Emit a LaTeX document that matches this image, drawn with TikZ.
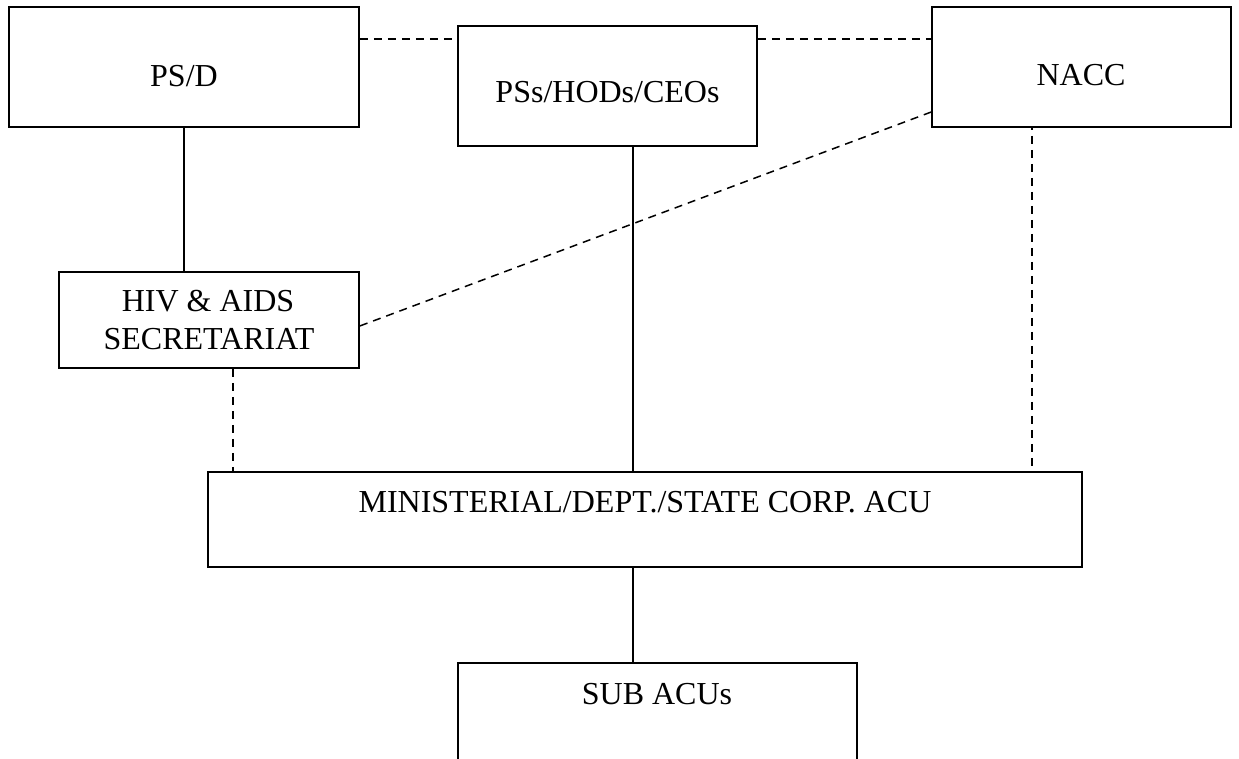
\documentclass[tikz,border=0pt]{standalone}
\usepackage{fontspec}
\setmainfont{Liberation Serif}
\begin{document}
\begin{tikzpicture}[x=1pt,y=-1pt,
  box/.style={draw, line width=1.5pt, rectangle, inner sep=0pt},
  lbl/.style={font=\fontsize{32}{38}\selectfont, inner sep=0pt, anchor=base},
  sol/.style={line width=1.5pt},
  dsh/.style={line width=1.5pt, dash pattern=on 8pt off 6pt}]
\useasboundingbox (0,0) rectangle (1239,758);
\clip (0,0) rectangle (1239,758);
% boxes
\node[box, minimum width=350pt, minimum height=120pt] (psd) at (184,67) {};
\node[box, minimum width=299pt, minimum height=120pt] (pss) at (607.5,86) {};
\node[box, minimum width=299pt, minimum height=120pt] (nacc) at (1081.5,67) {};
\node[box, minimum width=300pt, minimum height=96pt] (hiv) at (209,320) {};
\node[box, minimum width=874pt, minimum height=95pt] (min) at (645,519.5) {};
\node[box, minimum width=399pt, minimum height=140pt] (sub) at (657.5,733) {};
% labels
\node[lbl] (psdt) at (184,86) {PS/D};
\node[lbl] (psst) at (607.5,102) {PSs/HODs/CEOs};
\node[lbl] (nacct) at (1081,85) {NACC};
\node[lbl] (hivta) at (208,311) {HIV \& AIDS};
\node[lbl] (hivtb) at (209,349) {SECRETARIAT};
\node[lbl] (mint) at (645,512) {MINISTERIAL/DEPT./STATE CORP. ACU};
\node[lbl] (subt) at (657,704) {SUB ACUs};
% helper coordinates
\coordinate (top) at (0,39);
\coordinate (pssx) at (633,0);
\coordinate (hivx) at (233,0);
\coordinate (naccx) at (1032,0);
\coordinate (naccd) at (0,112);
\coordinate (hivd) at (0,326);
% connectors
\draw[dsh] (psd.east |- top) -- (pss.west |- top);
\draw[dsh] (pss.east |- top) -- (nacc.west |- top);
\draw[sol] (psd.south) -- (psd.south |- hiv.north);
\draw[sol] (pssx |- pss.south) -- (pssx |- min.north);
\draw[dsh] (nacc.west |- naccd) -- (hiv.east |- hivd);
\draw[dsh, dash phase=6pt] (naccx |- nacc.south) -- (naccx |- min.north);
\draw[dsh] (hivx |- hiv.south) -- (hivx |- min.north);
\draw[sol] (pssx |- min.south) -- (pssx |- sub.north);
\end{tikzpicture}
\end{document}
